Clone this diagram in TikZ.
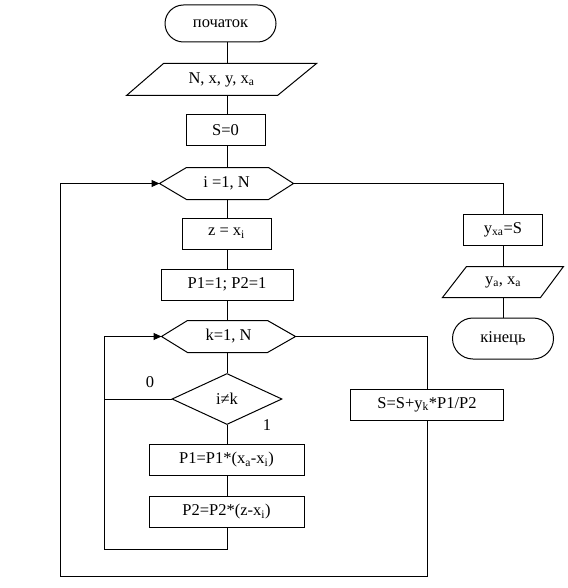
\documentclass[tikz,border=0pt]{standalone}
\usepackage{fontspec}
\setmainfont{Liberation Serif}
\usetikzlibrary{arrows.meta,shapes.geometric}
\newcommand\myfs{\fontsize{16.5}{19}\selectfont}
\tikzset{
  base/.style={font=\myfs, inner sep=0pt, line width=1pt},
  proc/.style={base, draw, rectangle, minimum height=31pt},
  term/.style={base, draw, rectangle},
  blank/.style={base},
  cond/.style={base, draw, diamond, aspect=2.15, minimum width=110pt, minimum height=51pt},
  conn/.style={line width=1pt},
  arr/.style={conn, -{Triangle[length=8pt,width=7pt]}},
  lbl/.style={font=\myfs, inner sep=0pt}
}
\begin{document}
\begin{tikzpicture}[x=1pt,y=-1pt]
\useasboundingbox (0,0) rectangle (567,588);
\coordinate (ax) at (227,0);
% nodes
\node[term, rounded corners=18.5pt, minimum width=111pt, minimum height=37pt] (start) at (220.5,23.5) {початок};
\node[blank, minimum width=189pt, minimum height=31pt] (in) at (221.5,79.5) {N, x, y, x\textsubscript{a}};
\draw[conn] ([xshift=37pt]in.north west) -- (in.north east) -- ([xshift=-39pt]in.south east) -- (in.south west) -- cycle;
\node[proc, minimum width=79pt] (s0) at (225.5,130.5) {S=0};
\node[blank, minimum width=133pt, minimum height=31pt] (loopi) at (226.5,183.5) {i =1, N};
\draw[conn] (loopi.west) -- ([xshift=27pt]loopi.north west) -- ([xshift=-25pt]loopi.north east) -- (loopi.east) -- ([xshift=-25pt]loopi.south east) -- ([xshift=27pt]loopi.south west) -- cycle;
\node[proc, minimum width=89pt] (z) at (226.5,233.5) {z = x\textsubscript{i}};
\node[proc, minimum width=132pt] (p) at (227,284.5) {P1=1; P2=1};
\node[blank, minimum width=133pt, minimum height=31pt] (loopk) at (228.5,336.5) {k=1, N};
\draw[conn] (loopk.west) -- ([xshift=26pt]loopk.north west) -- ([xshift=-28pt]loopk.north east) -- (loopk.east) -- ([xshift=-28pt]loopk.south east) -- ([xshift=26pt]loopk.south west) -- cycle;
\node[cond] (cond) at (227,399) {i≠k};
\node[proc, minimum width=155pt] (p1) at (226.5,459.5) {P1=P1*(x\textsubscript{a}-x\textsubscript{i})};
\node[proc, minimum width=155pt] (p2) at (226.5,511.5) {P2=P2*(z-x\textsubscript{i})};
\node[proc, minimum width=153pt] (sum) at (427,404.5) {S=S+y\textsubscript{k}*P1/P2};
\node[proc, minimum width=79pt] (yxa) at (503,229.5) {y\textsubscript{xa}=S};
\node[blank, minimum width=120pt, minimum height=30pt] (out) at (503,282) {y\textsubscript{a}, x\textsubscript{a}};
\draw[conn] ([xshift=24pt]out.north west) -- (out.north east) -- ([xshift=-23pt]out.south east) -- (out.south west) -- cycle;
\node[term, rounded corners=20.5pt, minimum width=101pt, minimum height=41pt] (end) at (503,338.5) {кінець};
\node[lbl] (l0) at (150,382) {0};
\node[lbl] (l1) at (267,425) {1};
% helper coordinates
\coordinate (kb) at (104,549);
\coordinate (obr) at (427,576);
\coordinate (obl) at (60,576);
% connectors
\draw[conn] (start.south -| ax) -- (in.north -| ax);
\draw[conn] (in.south -| ax) -- (s0.north -| ax);
\draw[conn] (s0.south -| ax) -- (loopi.north -| ax);
\draw[conn] (loopi.south -| ax) -- (z.north -| ax);
\draw[conn] (z.south -| ax) -- (p.north -| ax);
\draw[conn] (p.south -| ax) -- (loopk.north -| ax);
\draw[conn] (loopk.south -| ax) -- (cond.north);
\draw[conn] (cond.south) -- (p1.north -| ax);
\draw[conn] (p1.south -| ax) -- (p2.north -| ax);
\draw[arr] (p2.south -| ax) |- (kb) |- (loopk.west);
\draw[conn] (cond.west) -- (cond.west -| kb);
\draw[conn] (loopk.east) -| (sum.north);
\draw[arr] (sum.south) -- (obr) -- (obl) |- (loopi.west);
\draw[conn] (loopi.east) -| (yxa.north);
\draw[conn] (yxa.south) -- (out.north);
\draw[conn] (out.south) -- (end.north);
\end{tikzpicture}
\end{document}
